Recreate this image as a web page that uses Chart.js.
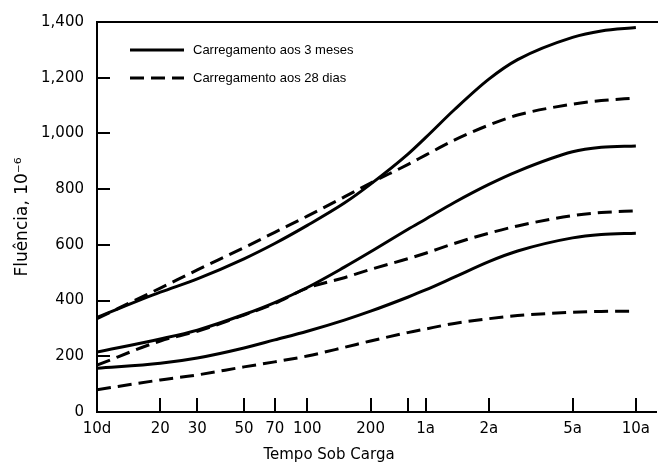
<!DOCTYPE html>
<html>
<head>
<meta charset="utf-8">
<script src="https://cdn.jsdelivr.net/npm/chart.js@4"></script>
<style>
  html, body { margin: 0; padding: 0; background: #fff; }
  #wrap { width: 658px; height: 464px; }
</style>
</head>
<body>
<div id="wrap"><canvas id="myChart" width="658" height="464"></canvas></div>
<script>
// tempo sob carga (dias)
var days = [10, 20, 30, 50, 70, 100, 150, 200, 300, 365, 500, 730, 1000, 1825, 2500, 3650];

// carregamento aos 3 meses (linhas cheias)
var solidHigh = [340, 430, 478, 550, 605, 670, 750, 818, 925, 985, 1085, 1195, 1265, 1345, 1368, 1380];
var solidMid  = [215, 262, 294, 350, 393, 447, 520, 575, 655, 692, 752, 817, 864, 934, 950, 955];
var solidLow  = [157, 175, 194, 230, 259, 290, 330, 362, 412, 438, 484, 540, 578, 625, 637, 642];

// carregamento aos 28 dias (linhas tracejadas)
var dashHigh = [335, 445, 510, 590, 645, 703, 772, 822, 888, 922, 976, 1030, 1066, 1105, 1118, 1127];
var dashMid  = [168, 255, 290, 348, 390, 445, 482, 512, 550, 570, 605, 642, 668, 705, 716, 722];
var dashLow  = [80, 115, 133, 162, 180, 201, 232, 255, 285, 298, 318, 335, 346, 358, 361, 362];

var xTicks = [10, 20, 30, 50, 70, 100, 200, 300, 365, 730, 1825, 3650];
var xTickLabels = ["10d", "20", "30", "50", "70", "100", "200", "", "1a", "2a", "5a", "10a"];
var yTicks = [0, 200, 400, 600, 800, 1000, 1200, 1400];

var legendLabels = ["Carregamento aos 3 meses", "Carregamento aos 28 dias"];
var FONT = "'Liberation Sans', Arial, Helvetica, sans-serif";
var AXFONT = "'DejaVu Sans', Verdana, sans-serif";

function pts(vals) {
	return days.map((d, i) => ({ x: d, y: vals[i] }));
}

function serie(label, vals, dashed) {
	return {
		label: label,
		data: pts(vals),
		borderColor: "#000",
		borderWidth: 3,
		borderDash: dashed ? [14, 7] : [],
		pointRadius: 0,
		fill: false,
		cubicInterpolationMode: "monotone"
	};
}

// marcas para dentro + borda de cima + legenda dentro do grafico
var extras = {
	id: "extras",
	afterDraw(chart) {
		var ctx = chart.ctx;
		var a = chart.chartArea;
		var xs = chart.scales.x, ys = chart.scales.y;
		ctx.save();
		ctx.strokeStyle = "#000";
		ctx.lineWidth = 2;
		ctx.beginPath();
		ctx.moveTo(a.left, a.top);
		ctx.lineTo(chart.width, a.top);
		yTicks.forEach(v => {
			if (v == 0 || v == 1400) return;
			var py = Math.round(ys.getPixelForValue(v));
			ctx.moveTo(a.left, py);
			ctx.lineTo(a.left + 13, py);
		});
		xTicks.forEach(v => {
			if (v == 10) return;
			var px = Math.round(xs.getPixelForValue(v));
			ctx.moveTo(px, a.bottom);
			ctx.lineTo(px, a.bottom - 14);
		});
		ctx.stroke();

		// legenda
		ctx.lineWidth = 3;
		ctx.font = "13px " + FONT;
		ctx.fillStyle = "#000";
		ctx.textBaseline = "middle";
		legendLabels.forEach((txt, i) => {
			var ly = 50 + i * 28;
			ctx.setLineDash(i == 0 ? [] : [14, 7]);
			ctx.beginPath();
			ctx.moveTo(130, ly);
			ctx.lineTo(184, ly);
			ctx.stroke();
			ctx.fillText(txt, 193, ly);
		});
		ctx.restore();
	}
};

var ctx = document.getElementById("myChart").getContext("2d");
var myChart = new Chart(ctx, {
	type: "line",
	data: {
		datasets: [
			serie(legendLabels[0], solidHigh, false),
			serie(legendLabels[1], dashHigh, true),
			serie(legendLabels[0], solidMid, false),
			serie(legendLabels[1], dashMid, true),
			serie(legendLabels[0], solidLow, false),
			serie(legendLabels[1], dashLow, true)
		]
	},
	options: {
		responsive: false,
		animation: false,
		layout: { padding: { left: 0, right: 0, top: 22, bottom: 0 } },
		plugins: {
			legend: { display: false },
			tooltip: { enabled: false },
			title: {
				display: true,
				position: "bottom",
				text: "Tempo Sob Carga",
				color: "#000",
				font: { family: AXFONT, size: 15, weight: "normal" },
				padding: { top: 6, bottom: 0 }
			}
		},
		scales: {
			x: {
				type: "logarithmic",
				min: 10,
				max: 4600,
				afterBuildTicks: s => { s.ticks = xTicks.map(v => ({ value: v })); },
				afterFit: s => { s.height = 28; },
				border: { display: true, color: "#000", width: 2 },
				grid: { display: false, drawTicks: false },
				ticks: {
					autoSkip: false,
					maxRotation: 0,
					padding: 8,
					color: "#000",
					font: { family: AXFONT, size: 15 },
					callback: (v, i) => xTickLabels[i]
				}
			},
			y: {
				min: 0,
				max: 1400,
				afterBuildTicks: s => { s.ticks = yTicks.map(v => ({ value: v })); },
				afterFit: s => { s.width = 97; },
				border: { display: true, color: "#000", width: 2 },
				grid: { display: false, drawTicks: false },
				title: {
					display: true,
					text: "Fluência, 10\u207B\u2076",
					color: "#000",
					font: { family: AXFONT, size: 17 },
					padding: { top: 12, bottom: 0 }
				},
				ticks: {
					padding: 13,
					color: "#000",
					font: { family: AXFONT, size: 15 },
					callback: v => v.toLocaleString("en-US")
				}
			}
		}
	},
	plugins: [extras]
});
</script>
</body>
</html>
